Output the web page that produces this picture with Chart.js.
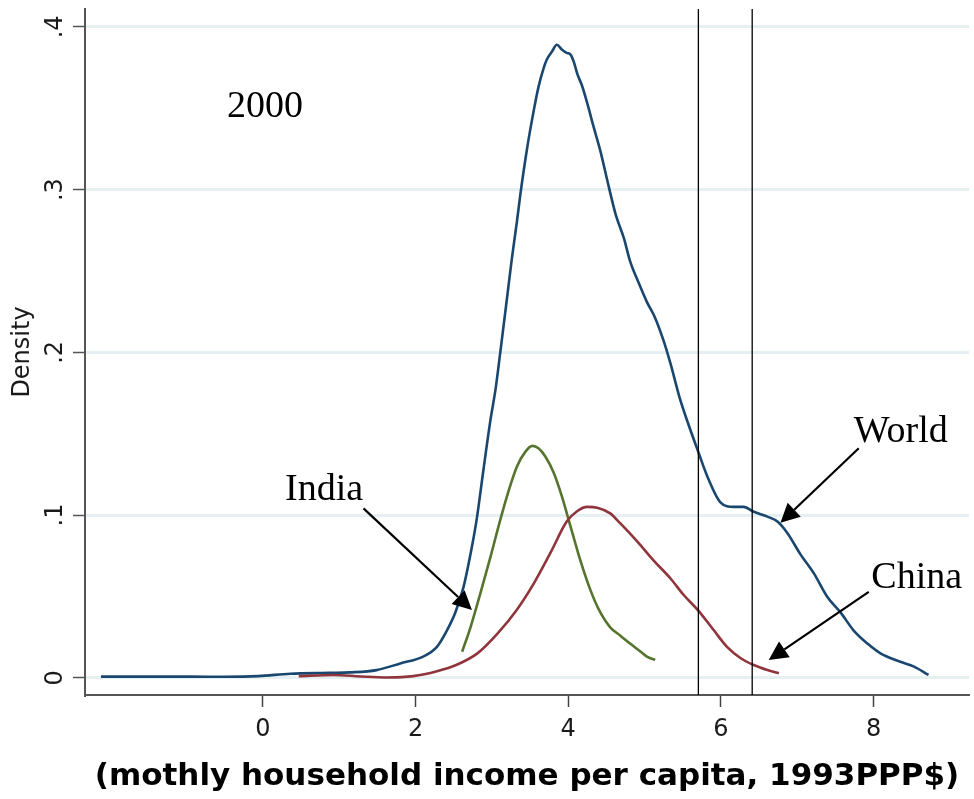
<!DOCTYPE html>
<html>
<head>
<meta charset="utf-8">
<script src="https://cdn.jsdelivr.net/npm/chart.js@4.4.1/dist/chart.umd.min.js"></script>
<style>
  html, body { margin: 0; padding: 0; background: #fff; }
  #wrap { position: relative; width: 974px; height: 799px; }
</style>
</head>
<body>
<div id="wrap"><canvas id="densityChart"></canvas></div>
<script>
'use strict';

// Kernel densities of (log) income, 2000
// --------------------------------------------------------------------
const worldX = [-2.12, -1.6, -0.95, -0.5, -0.06, 0.36, 0.88, 1.14, 1.49, 1.80, 2.10, 2.28, 2.41, 2.52, 2.63, 2.72, 2.80, 2.89, 2.98, 3.05, 3.11, 3.20, 3.26, 3.33, 3.37, 3.46, 3.55, 3.61, 3.68, 3.72, 3.79, 3.85, 3.92, 3.98, 4.03, 4.07, 4.12, 4.18, 4.25, 4.33, 4.42, 4.53, 4.62, 4.73, 4.81, 4.92, 5.03, 5.14, 5.25, 5.34, 5.46, 5.58, 5.71, 5.82, 5.99, 6.17, 6.30, 6.43, 6.61, 6.74, 6.87, 7.04, 7.22, 7.39, 7.57, 7.74, 7.92, 8.09, 8.35, 8.53, 8.72];
const worldY = [0.0007, 0.0007, 0.0007, 0.0006, 0.001, 0.0025, 0.003, 0.0033, 0.0047, 0.0088, 0.013, 0.019, 0.029, 0.040, 0.056, 0.076, 0.097, 0.128, 0.158, 0.178, 0.200, 0.234, 0.257, 0.281, 0.296, 0.325, 0.349, 0.363, 0.375, 0.380, 0.385, 0.389, 0.386, 0.384, 0.383, 0.379, 0.371, 0.364, 0.353, 0.339, 0.324, 0.302, 0.285, 0.270, 0.256, 0.243, 0.231, 0.221, 0.207, 0.193, 0.172, 0.155, 0.138, 0.124, 0.108, 0.105, 0.105, 0.102, 0.099, 0.096, 0.089, 0.076, 0.064, 0.050, 0.040, 0.029, 0.021, 0.015, 0.0098, 0.0068, 0.0017];

const indiaX = [2.61, 2.72, 2.85, 2.98, 3.11, 3.22, 3.33, 3.44, 3.53, 3.61, 3.70, 3.81, 3.92, 4.03, 4.16, 4.29, 4.40, 4.55, 4.68, 4.81, 4.95, 5.03, 5.14];
const indiaY = [0.016, 0.031, 0.052, 0.074, 0.097, 0.115, 0.130, 0.139, 0.1425, 0.141, 0.136, 0.126, 0.111, 0.093, 0.072, 0.054, 0.042, 0.031, 0.026, 0.021, 0.016, 0.013, 0.011];

const chinaX = [0.47, 0.93, 1.28, 1.63, 1.97, 2.28, 2.54, 2.81, 3.07, 3.33, 3.55, 3.77, 3.98, 4.12, 4.25, 4.38, 4.55, 4.68, 4.90, 5.12, 5.34, 5.51, 5.71, 5.91, 6.08, 6.26, 6.43, 6.61, 6.76];
const chinaY = [0.001, 0.0017, 0.0008, 0.0002, 0.001, 0.004, 0.008, 0.015, 0.027, 0.042, 0.058, 0.077, 0.096, 0.1025, 0.105, 0.1045, 0.101, 0.095, 0.084, 0.072, 0.061, 0.051, 0.041, 0.029, 0.019, 0.012, 0.0078, 0.0047, 0.0027];

// two reference lines (xline)
const cutoffs = [5.705, 6.41];

const xTicks = [0, 2, 4, 6, 8];
const yTicks = [0, 0.1, 0.2, 0.3, 0.4];
const yTickLabels = ['0', '.1', '.2', '.3', '.4'];
const xMin = -2.33, xMax = 9.25, yMin = -0.0106, yMax = 0.411;

const xTitle = '(mothly household income per capita, 1993PPP$)';
const yTitle = 'Density';

// text labels + arrows, in data units
const labels = [
  { text: '2000', x: -0.47, y: 0.3445 },
  { text: 'India', x: 0.29, y: 0.1092 },
  { text: 'World', x: 7.74, y: 0.145 },
  { text: 'China', x: 7.97, y: 0.0549 }
];
const arrows = [
  { from: [1.318, 0.1041], to: [2.739, 0.0416] },
  { from: [7.806, 0.141], to: [6.78, 0.0952] },
  { from: [7.937, 0.0528], to: [6.626, 0.0109] }
];

const toPoints = (xs, ys) => xs.map((x, i) => ({ x: x, y: ys[i] }));

function drawArrow(ctx, x1, y1, x2, y2) {
  const ang = Math.atan2(y2 - y1, x2 - x1);
  const headLen = 19, headHalf = 9.5;
  const bx = x2 - headLen * Math.cos(ang);
  const by = y2 - headLen * Math.sin(ang);
  ctx.beginPath();
  ctx.moveTo(x1, y1);
  ctx.lineTo(bx, by);
  ctx.stroke();
  ctx.beginPath();
  ctx.moveTo(x2, y2);
  ctx.lineTo(bx + headHalf * Math.sin(ang), by - headHalf * Math.cos(ang));
  ctx.lineTo(bx - headHalf * Math.sin(ang), by + headHalf * Math.cos(ang));
  ctx.closePath();
  ctx.fill();
}

// rotated y labels, title, annotations
const stataText = {
  id: 'stataText',
  afterDraw(chart) {
    const { ctx, scales: { x, y }, chartArea } = chart;
    ctx.save();
    ctx.fillStyle = '#1a1a1a';
    ctx.font = '24px "DejaVu Sans"';
    ctx.textAlign = 'center';
    ctx.textBaseline = 'alphabetic';
    yTicks.forEach((v, i) => {
      ctx.save();
      ctx.translate(62, y.getPixelForValue(v));
      ctx.rotate(-Math.PI / 2);
      ctx.fillText(yTickLabels[i], 0, 0);
      ctx.restore();
    });
    ctx.save();
    ctx.translate(29, (chartArea.top + chartArea.bottom) / 2);
    ctx.rotate(-Math.PI / 2);
    ctx.fillText(yTitle, 0, 0);
    ctx.restore();

    ctx.fillStyle = '#000';
    ctx.font = '38px "Liberation Serif"';
    ctx.textAlign = 'left';
    labels.forEach(l => {
      ctx.fillText(l.text, x.getPixelForValue(l.x), y.getPixelForValue(l.y));
    });

    ctx.strokeStyle = '#000';
    ctx.lineWidth = 2.2;
    arrows.forEach(a => {
      drawArrow(ctx,
        x.getPixelForValue(a.from[0]), y.getPixelForValue(a.from[1]),
        x.getPixelForValue(a.to[0]), y.getPixelForValue(a.to[1]));
    });
    ctx.restore();
  }
};

const lineStyle = (color) => ({
  borderColor: color,
  backgroundColor: color,
  borderWidth: 2.6,
  pointRadius: 0,
  fill: false,
  cubicInterpolationMode: 'monotone'
});

const cutoffSets = cutoffs.map(c => ({
  data: [{ x: c, y: yMin }, { x: c, y: yMax }],
  borderColor: '#000',
  borderWidth: 1.3,
  pointRadius: 0,
  order: 0
}));

new Chart(document.getElementById('densityChart'), {
  type: 'line',
  data: {
    datasets: [
      Object.assign({ label: 'China', data: toPoints(chinaX, chinaY), order: 1 }, lineStyle('#90353b')),
      Object.assign({ label: 'India', data: toPoints(indiaX, indiaY), order: 2 }, lineStyle('#55752f')),
      Object.assign({ label: 'World', data: toPoints(worldX, worldY), order: 3 }, lineStyle('#1a476f'))
    ].concat(cutoffSets)
  },
  options: {
    responsive: true,
    maintainAspectRatio: false,
    animation: false,
    layout: { padding: { top: 9, right: 5, left: 0, bottom: 0 } },
    plugins: {
      legend: { display: false },
      tooltip: { enabled: false }
    },
    scales: {
      x: {
        type: 'linear',
        min: xMin,
        max: xMax,
        afterBuildTicks: s => { s.ticks = xTicks.map(v => ({ value: v })); },
        afterFit: s => { s.height = 104; },
        grid: { drawOnChartArea: false, drawTicks: true, tickLength: 12, tickColor: '#444', tickWidth: 1.5 },
        border: { display: true, color: '#555', width: 2 },
        ticks: {
          font: { family: 'DejaVu Sans', size: 24 },
          color: '#1a1a1a',
          padding: 8,
          maxRotation: 0,
          autoSkip: false
        },
        title: {
          display: true,
          text: xTitle,
          color: '#000',
          font: { family: 'DejaVu Sans', size: 31, weight: 'bold' },
          padding: { top: 0, bottom: 3 }
        }
      },
      y: {
        min: yMin,
        max: yMax,
        afterBuildTicks: s => { s.ticks = yTicks.map(v => ({ value: v })); },
        afterFit: s => { s.width = 85; },
        grid: { color: '#e6eff1', lineWidth: 3, tickLength: 12, tickColor: '#555', tickWidth: 1.5 },
        border: { display: true, color: '#555', width: 2 },
        ticks: { display: false }
      }
    }
  },
  plugins: [stataText]
});
</script>
</body>
</html>
